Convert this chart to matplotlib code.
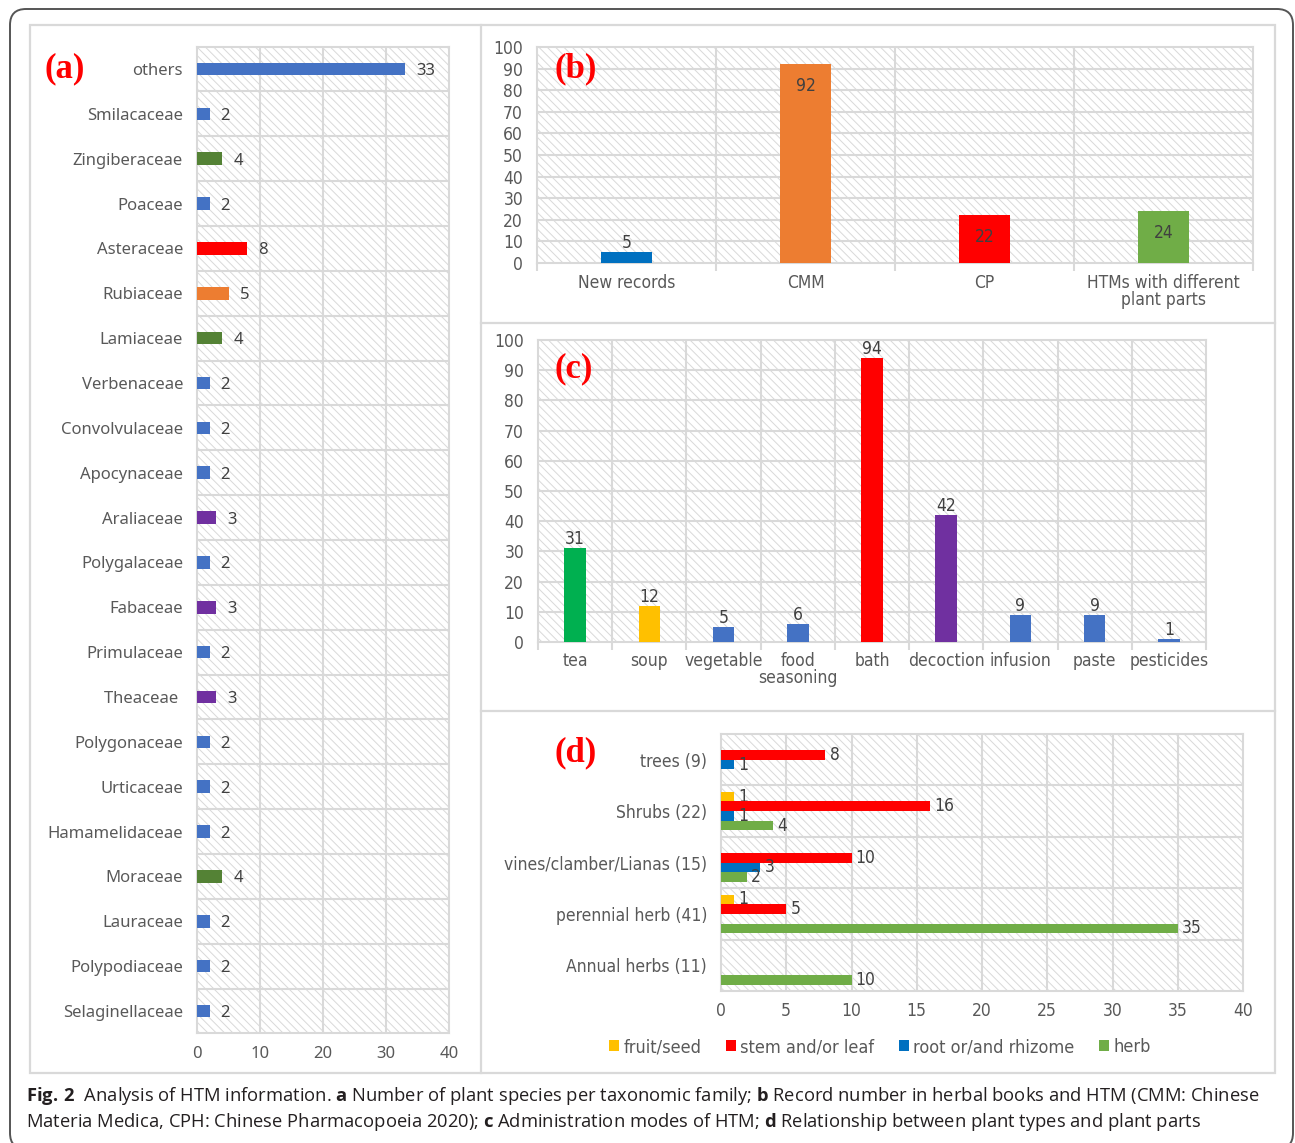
import numpy as np
import matplotlib
matplotlib.use("Agg")
import matplotlib.pyplot as plt
from matplotlib import font_manager
from matplotlib.patches import Rectangle, FancyBboxPatch, Patch

# panel (a): plant species per family
fam_names = ["others", "Smilacaceae", "Zingiberaceae", "Poaceae", "Asteraceae",
             "Rubiaceae", "Lamiaceae", "Verbenaceae", "Convolvulaceae", "Apocynaceae",
             "Araliaceae", "Polygalaceae", "Fabaceae", "Primulaceae", "Theaceae ",
             "Polygonaceae", "Urticaceae", "Hamamelidaceae", "Moraceae", "Lauraceae",
             "Polypodiaceae", "Selaginellaceae"]
fam_vals = [33, 2, 4, 2, 8, 5, 4, 2, 2, 2, 3, 2, 3, 2, 3, 2, 2, 2, 4, 2, 2, 2]
fam_colors = ["#4472C4", "#4472C4", "#548235", "#4472C4", "#FF0000", "#ED7D31",
              "#548235", "#4472C4", "#4472C4", "#4472C4", "#7030A0", "#4472C4",
              "#7030A0", "#4472C4", "#7030A0", "#4472C4", "#4472C4", "#4472C4",
              "#548235", "#4472C4", "#4472C4", "#4472C4"]

# panel (b): records in herbal books
rec_names = ["New records", "CMM", "CP", "HTMs with different\nplant parts"]
rec_vals = [5, 92, 22, 24]
rec_colors = ["#0070C0", "#ED7D31", "#FF0000", "#70AD47"]

# panel (c): administration modes
mode_names = ["tea", "soup", "vegetable", "food\nseasoning", "bath", "decoction",
              "infusion", "paste", "pesticides"]
mode_vals = [31, 12, 5, 6, 94, 42, 9, 9, 1]
mode_colors = ["#00B050", "#FFC000", "#4472C4", "#4472C4", "#FF0000", "#7030A0",
               "#4472C4", "#4472C4", "#4472C4"]

# panel (d): plant types vs plant parts
types = ["trees (9)", "Shrubs (22)", "vines/clamber/Lianas (15)",
         "perennial herb (41)", "Annual herbs (11)"]
part_names = ["fruit/seed", "stem and/or leaf", "root or/and rhizome", "herb"]
fruit_seed = [0, 1, 0, 1, 0]
stem_leaf = [8, 16, 10, 5, 0]
root_rhizome = [1, 1, 3, 0, 0]
herb = [0, 4, 2, 35, 10]
part_colors = ["#FFC000", "#FF0000", "#0070C0", "#70AD47"]

W, H = 1295, 1143
GRID = "#d9d9d9"
TICK = "#595959"
LABEL = "#404040"

names = {f.name for f in font_manager.fontManager.ttflist}
narrow = "Liberation Sans Narrow" if "Liberation Sans Narrow" in names else "DejaVu Sans"
NARROW = dict(family=narrow, stretch="condensed")
WIDE = dict(family="Noto Sans")

plt.rcParams["mathtext.fontset"] = "custom"
plt.rcParams["mathtext.rm"] = "Open Sans"
plt.rcParams["mathtext.bf"] = "Open Sans:bold"
plt.rcParams["hatch.linewidth"] = 0.7


def box(x0, y0, x1, y1):
    return [x0 / W, 1 - y1 / H, (x1 - x0) / W, (y1 - y0) / H]


def hatch_bg(ax):
    ax.add_patch(Rectangle((0, 0), 1, 1, transform=ax.transAxes, facecolor="white",
                           edgecolor=GRID, hatch="\\\\\\\\", lw=0, zorder=0))
    for s in ax.spines.values():
        s.set_color(GRID)
        s.set_linewidth(1.5)


def panel_tag(x, y, s):
    fig.text(x / W, 1 - y / H, s, color="#FF0000", fontsize=25, fontweight="bold",
             family="Liberation Serif", ha="left", va="center")


fig = plt.figure(figsize=(W / 100, H / 100), dpi=100)

# frame and panel dividers
bg = fig.add_axes([0, 0, 1, 1])
bg.set_xlim(0, W)
bg.set_ylim(H, 0)
bg.axis("off")
bg.add_patch(FancyBboxPatch((10, 9), 1283, 1140, boxstyle="round,pad=0,rounding_size=16",
                            facecolor="white", edgecolor="#555555", lw=1.4))
bg.add_patch(Rectangle((30, 25), 1245, 1048, facecolor="none", edgecolor=GRID, lw=1.6))
bg.plot([481, 481], [25, 1073], color=GRID, lw=1.6)
bg.plot([481, 1275], [323, 323], color=GRID, lw=1.6)
bg.plot([481, 1275], [711, 711], color=GRID, lw=1.6)

cap1 = (r"$\mathbf{Fig.}\,\mathbf{2}$  Analysis of HTM information. $\mathbf{a}$ Number of plant species "
        r"per taxonomic family; $\mathbf{b}$ Record number in herbal books and HTM (CMM: Chinese")
cap2 = (r"Materia Medica, CPH: Chinese Pharmacopoeia 2020); $\mathbf{c}$ Administration modes of HTM; "
        r"$\mathbf{d}$ Relationship between plant types and plant parts")
bg.text(26, 1096, cap1, family="Open Sans", fontsize=13.2, color="#231f20", va="center")
bg.text(26, 1122, cap2, family="Open Sans", fontsize=13.2, color="#231f20", va="center")

# (a) families
ax = fig.add_axes(box(197, 46.6, 449, 1033.4))
hatch_bg(ax)
y = np.arange(len(fam_names))
ax.barh(y, fam_vals, height=0.28, color=fam_colors, zorder=3)
ax.set_xlim(0, 40)
ax.set_ylim(len(fam_names) - 0.5, -0.5)
ax.set_xticks(range(0, 41, 10))
ax.set_yticks(y, fam_names)
for xv in range(10, 40, 10):
    ax.axvline(xv, color=GRID, lw=1.5, zorder=1)
for b in y[:-1]:
    ax.axhline(b + 0.5, color=GRID, lw=1.5, zorder=1)
ax.tick_params(length=0, labelsize=12, labelcolor=TICK)
ax.tick_params(axis="y", pad=10)
ax.tick_params(axis="x", pad=9)
for lab in ax.get_xticklabels() + ax.get_yticklabels():
    lab.set_family(WIDE["family"])
for i, v in enumerate(fam_vals):
    ax.annotate(str(v), (v, i), xytext=(8, 0), textcoords="offset points",
                va="center_baseline", ha="left", fontsize=12, color=LABEL, **WIDE)
panel_tag(45, 69, "(a)")


def column_panel(rect, cats, vals, colors, inside_min, pad):
    ax = fig.add_axes(rect)
    hatch_bg(ax)
    x = np.arange(len(cats))
    ax.bar(x, vals, width=0.29, color=colors, zorder=3)
    ax.set_xlim(-0.5, len(cats) - 0.5)
    ax.set_ylim(0, 100)
    ax.set_yticks(range(0, 101, 10))
    ax.set_xticks(x, cats)
    ax.set_xticks(np.arange(len(cats) + 1) - 0.5, minor=True)
    for yv in range(10, 100, 10):
        ax.axhline(yv, color=GRID, lw=1.5, zorder=1)
    for b in x[:-1]:
        ax.axvline(b + 0.5, color=GRID, lw=1.5, zorder=1)
    ax.tick_params(which="major", length=0, labelsize=12.5, labelcolor=TICK)
    ax.tick_params(axis="x", which="minor", length=6, width=1.5, color=GRID)
    ax.tick_params(axis="y", pad=10)
    ax.tick_params(axis="x", which="major", pad=pad)
    for lab in ax.get_xticklabels() + ax.get_yticklabels():
        lab.set_family(NARROW["family"])
        lab.set_stretch(NARROW["stretch"])
        lab.set_linespacing(0.95)
    for i, v in enumerate(vals):
        if v >= inside_min:
            ax.annotate(str(v), (i, v), xytext=(0, -9), textcoords="offset points",
                        ha="center", va="top", fontsize=12.5, color=LABEL, **NARROW)
        else:
            ax.annotate(str(v), (i, v), xytext=(0, 0), textcoords="offset points",
                        ha="center", va="bottom", fontsize=12.5, color=LABEL, **NARROW)
    return ax


# (b) records
column_panel(box(537, 47, 1253, 263), rec_names, rec_vals, rec_colors, 15, 8)
panel_tag(554, 69, "(b)")

# (c) administration modes
column_panel(box(538, 340, 1206, 642), mode_names, mode_vals, mode_colors, 999, 7)
panel_tag(554, 369, "(c)")

# (d) plant types and parts
ax = fig.add_axes(box(721, 734, 1243, 991))
hatch_bg(ax)
yd = np.arange(len(types))
hb = 0.187
series = [fruit_seed, stem_leaf, root_rhizome, herb]
for k, (vals, col) in enumerate(zip(series, part_colors)):
    yy = yd + (k - 1.5) * hb
    ax.barh(yy, vals, height=hb, color=col, zorder=3)
    for yi, v in zip(yy, vals):
        if v > 0:
            ax.annotate(str(v), (v, yi), xytext=(3, 0), textcoords="offset points",
                        va="center", ha="left", fontsize=12.5, color=LABEL, **NARROW)
ax.set_xlim(0, 40)
ax.set_ylim(len(types) - 0.5, -0.5)
ax.set_xticks(range(0, 41, 5))
ax.set_yticks(yd, types)
for xv in range(5, 40, 5):
    ax.axvline(xv, color=GRID, lw=1.5, zorder=1)
for b in yd[:-1]:
    ax.axhline(b + 0.5, color=GRID, lw=1.5, zorder=1)
ax.tick_params(length=0, labelsize=12.5, labelcolor=TICK)
ax.tick_params(axis="y", pad=10)
ax.tick_params(axis="x", pad=8)
for lab in ax.get_xticklabels() + ax.get_yticklabels():
    lab.set_family(NARROW["family"])
    lab.set_stretch(NARROW["stretch"])
panel_tag(554, 753, "(d)")

handles = [Patch(facecolor=c, edgecolor="none") for c in part_colors]
fig.legend(handles, part_names, loc="center", bbox_to_anchor=(880 / W, 1 - 1047 / H),
           ncol=4, frameon=False, handlelength=0.55, handleheight=0.55, handletextpad=0.25,
           columnspacing=1.35, labelcolor=TICK,
           prop=dict(family=NARROW["family"], stretch=NARROW["stretch"], size=13))

fig.savefig("out.png", dpi=100)
